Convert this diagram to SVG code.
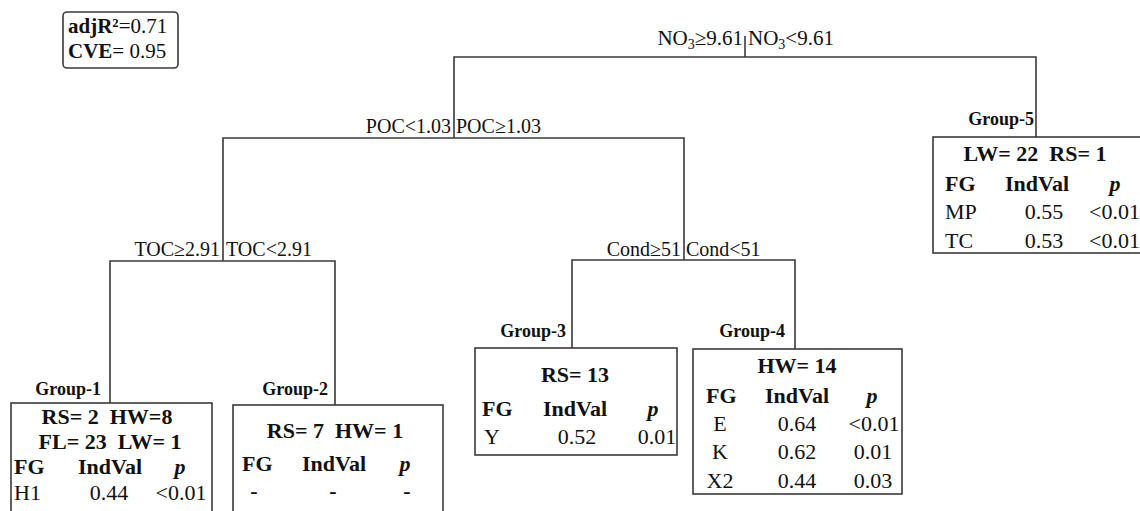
<svg xmlns="http://www.w3.org/2000/svg" width="1140" height="511" viewBox="0 0 1140 511">
<style>
text{font-family:'Liberation Serif','Times New Roman',serif;font-size:20px;fill:#111;white-space:pre}
.t{font-size:22px}
.b{font-weight:bold;font-size:22px}
.g{font-weight:bold;font-size:18px}
.m{text-anchor:middle}
.e{text-anchor:end}
.bi{font-weight:bold;font-style:italic;font-size:22px}
.top{font-size:21px}
.ln{stroke:#3a3a3a;stroke-width:1.6;fill:none}
.box{stroke:#3a3a3a;stroke-width:1.6;fill:#fff}
</style>
<rect width="1140" height="511" fill="#fff"/>
<g id="stats">
<rect x="63" y="12" width="115" height="56" rx="4" class="box"/>
<text x="68" y="33" class="top"><tspan font-weight="bold">adjR²</tspan>=0.71</text>
<text x="68" y="58" class="top"><tspan font-weight="bold">CVE</tspan>= 0.95</text>
</g>
<g id="connectors">
<line class="ln" x1="745" y1="36" x2="745" y2="57"/>
<polyline class="ln" points="454,138 454,57 1036,57 1036,137"/>
<polyline class="ln" points="223,261 223,138 684,138 684,260"/>
<polyline class="ln" points="110,403 110,261 335,261 335,405"/>
<polyline class="ln" points="572,348 572,260 795,260 795,349"/>
</g>
<g id="split-labels">
<text class="e top" x="743" y="45">NO<tspan font-size="14" dy="4">3</tspan><tspan dy="-4">≥9.61</tspan></text>
<text class="top" x="748" y="45">NO<tspan font-size="14" dy="4">3</tspan><tspan dy="-4">&lt;9.61</tspan></text>
<text class="e" x="451" y="133">POC&lt;1.03</text>
<text x="456" y="133">POC≥1.03</text>
<text class="e" x="220" y="256">TOC≥2.91</text>
<text x="226" y="256">TOC&lt;2.91</text>
<text class="e" x="681" y="256">Cond≥51</text>
<text x="686" y="256">Cond&lt;51</text>
</g>
<g id="group-1">
<text class="g e" x="101" y="395">Group-1</text>
<rect class="box" x="11" y="403" width="201" height="120"/>
<text class="b m" x="107" y="424">RS= 2  HW=8</text>
<text class="b m" x="110" y="449">FL= 23  LW= 1</text>
<text class="b" x="14" y="474">FG</text>
<text class="b m" x="110" y="474">IndVal</text>
<text class="bi m" x="180" y="474">p</text>
<text class="t" x="14" y="500">H1</text>
<text class="t m" x="109" y="500">0.44</text>
<text class="t m" x="181" y="500">&lt;0.01</text>
</g>
<g id="group-2">
<text class="g e" x="328" y="395">Group-2</text>
<rect class="box" x="233" y="405" width="210" height="120"/>
<text class="b m" x="335" y="438">RS= 7  HW= 1</text>
<text class="b" x="242" y="471">FG</text>
<text class="b m" x="334" y="471">IndVal</text>
<text class="bi m" x="405" y="471">p</text>
<text class="b m" x="254" y="498">-</text>
<text class="b m" x="333" y="498">-</text>
<text class="b m" x="407" y="498">-</text>
</g>
<g id="group-3">
<text class="g e" x="566" y="337">Group-3</text>
<rect class="box" x="475" y="348" width="202" height="107"/>
<text class="b m" x="575" y="382">RS= 13</text>
<text class="b" x="482" y="416">FG</text>
<text class="b m" x="575" y="416">IndVal</text>
<text class="bi m" x="653" y="416">p</text>
<text class="t m" x="492" y="444">Y</text>
<text class="t m" x="577" y="444">0.52</text>
<text class="t m" x="657" y="444">0.01</text>
</g>
<g id="group-4">
<text class="g e" x="785" y="337">Group-4</text>
<rect class="box" x="693" y="349" width="209" height="145"/>
<text class="b m" x="797" y="373">HW= 14</text>
<text class="b" x="706" y="403">FG</text>
<text class="b m" x="797" y="403">IndVal</text>
<text class="bi m" x="872" y="403">p</text>
<text class="t m" x="720" y="431">E</text>
<text class="t m" x="797" y="431">0.64</text>
<text class="t m" x="874" y="431">&lt;0.01</text>
<text class="t m" x="720" y="459">K</text>
<text class="t m" x="797" y="459">0.62</text>
<text class="t m" x="873" y="459">0.01</text>
<text class="t m" x="720" y="488">X2</text>
<text class="t m" x="797" y="488">0.44</text>
<text class="t m" x="873" y="488">0.03</text>
</g>
<g id="group-5">
<text class="g e" x="1034" y="125">Group-5</text>
<rect class="box" x="933" y="137" width="215" height="116"/>
<text class="b m" x="1035" y="161">LW= 22  RS= 1</text>
<text class="b" x="945" y="191">FG</text>
<text class="b m" x="1037" y="191">IndVal</text>
<text class="bi m" x="1115" y="191">p</text>
<text class="t" x="945" y="219">MP</text>
<text class="t m" x="1044" y="219">0.55</text>
<text class="t" x="1089" y="219">&lt;0.01</text>
<text class="t" x="945" y="248">TC</text>
<text class="t m" x="1044" y="248">0.53</text>
<text class="t" x="1089" y="248">&lt;0.01</text>
</g>
</svg>
